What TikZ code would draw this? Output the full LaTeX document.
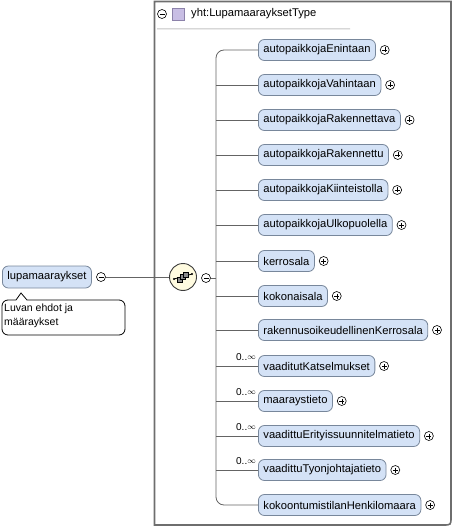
\documentclass[tikz,border=0pt]{standalone}
\usepackage{fontspec}
\setmainfont{Liberation Sans}
\usetikzlibrary{calc,positioning}
\definecolor{boxgray}{RGB}{110,110,110}
\definecolor{elemdraw}{RGB}{120,135,155}
\definecolor{elemfill}{RGB}{212,226,246}
\definecolor{conngray}{RGB}{100,100,100}
\definecolor{sqdraw}{RGB}{140,130,170}
\definecolor{sqfill}{RGB}{200,190,228}
\definecolor{hgray}{RGB}{140,140,140}
\definecolor{hlight}{RGB}{225,225,225}
\definecolor{seqdraw}{RGB}{60,60,60}
\definecolor{seqfill}{RGB}{255,251,224}
\definecolor{iconfill}{RGB}{140,140,140}
\begin{document}
\begin{tikzpicture}[x=1pt,y=-1pt,
  elem/.style={draw=elemdraw, fill=elemfill, rounded corners=6pt, minimum height=21pt, inner xsep=5pt, inner ysep=0pt, anchor=west, font=\fontsize{11.2}{13}\selectfont, line width=0.8pt},
  pm/.style={circle, draw=black, fill=white, minimum size=9pt, inner sep=0pt, line width=0.6pt},
  mult/.style={font=\fontsize{10}{11}\selectfont, anchor=south east, inner sep=0pt},
  conn/.style={draw=conngray, line width=0.8pt}
]
\useasboundingbox (0,0) rectangle (455,529);
% main box
\draw[draw=boxgray, line width=1.6pt] (154.5,525) -- (154.5,1.5) -- (451,1.5) -- (451,517) .. controls (451,525) .. (443,525) -- cycle;
% header
\node[pm] (hmin) at (162,14) {};
\draw (hmin.center) ++(-2.5,0) -- ++(5,0);
\node[draw=sqdraw, fill=sqfill, minimum size=12pt, inner sep=0pt] (hsq) at (178,14) {};
\node[anchor=west, font=\fontsize{11.2}{13}\selectfont, inner sep=0pt] (htitle) at (191,14) {yht:LupamaarayksetType};
\shade[left color=hlight, middle color=hgray, right color=white, shading angle=0] (157,28.5) rectangle (350,30);

% root node
\node[elem, minimum height=22pt] (root) at (2,277) {lupamaaraykset};
\node[pm] (rmin) at (101,277) {};
\draw (rmin.center) ++(-2.5,0) -- ++(5,0);
% comment
\draw[fill=white, line width=0.8pt, rounded corners=6pt] (16,300) [sharp corners]-- (21,293) -- (27,300) [rounded corners=6pt]-- (125,300) -- (125,335) -- (2,335) -- (2,300) [sharp corners]-- cycle;
\node[anchor=north west, align=left, font=\fontsize{10.5}{14}\selectfont, inner sep=0pt] (cmt) at (4,304) {Luvan ehdot ja\\m\"a\"araykset};

% sequence
\node[circle, draw=seqdraw, fill=seqfill, minimum size=27pt, inner sep=0pt, line width=0.9pt] (seq) at (183,277) {};
\draw[conn] (rmin.east) -- (seq.west);
\node[pm] (smin) at (206,278) {};
\draw (smin.center) ++(-2.5,0) -- ++(5,0);
\begin{scope}[shift={(183,277)}]
  \draw[line width=0.8pt] (-9,2) -- (9,-3);
  \fill (-9,2) circle (1.2pt);
  \fill (9,-3) circle (1.2pt);
  \draw[fill=iconfill, draw=black, line width=0.5pt] (-5.5,0) rectangle (-0.5,5);
  \draw[fill=iconfill, draw=black, line width=0.5pt] (-2.5,-2.5) rectangle (2.5,2.5);
  \draw[fill=iconfill, draw=black, line width=0.5pt] (0.5,-5) rectangle (5.5,0);
\end{scope}
\coordinate (trunk) at (216,278);
\draw[conn] (smin.east) -- (trunk);

% elements
\foreach \i/\name/\y in {
 e1/autopaikkojaEnintaan/50,
 e2/autopaikkojaVahintaan/85,
 e3/autopaikkojaRakennettava/120,
 e4/autopaikkojaRakennettu/155,
 e5/autopaikkojaKiinteistolla/190,
 e6/autopaikkojaUlkopuolella/225,
 e7/kerrosala/261,
 e8/kokonaisala/296,
 e9/rakennusoikeudellinenKerrosala/330,
 e10/vaaditutKatselmukset/366,
 e11/maaraystieto/401,
 e12/vaadittuErityissuunnitelmatieto/436,
 e13/vaadittuTyonjohtajatieto/470,
 e14/kokoontumistilanHenkilomaara/505}{
  \node[elem] (\i) at (258,\y) {\name};
  \node[pm, anchor=west] (\i p) at ($(\i.east)+(4,0)$) {};
  \draw (\i p.center) ++(-2.5,0) -- ++(5,0) (\i p.center) ++(0,-2.5) -- ++(0,5);
}
% tree lines
\draw[conn, rounded corners=8pt] (e1.west) -- (216,50) -- (216,505) -- (e14.west);
\foreach \i in {e2,e3,e4,e5,e6,e7,e8,e9,e10,e11,e12,e13}{
  \draw[conn] (\i.west -| trunk) -- (\i.west);
}
\foreach \i in {e10,e11,e12,e13}{
  \node[mult] at ($(\i.west)+(-2,-5)$) {0..\raisebox{0.3ex}{\fontsize{8.5}{9}\selectfont$\infty$}};
}
\end{tikzpicture}
\end{document}
